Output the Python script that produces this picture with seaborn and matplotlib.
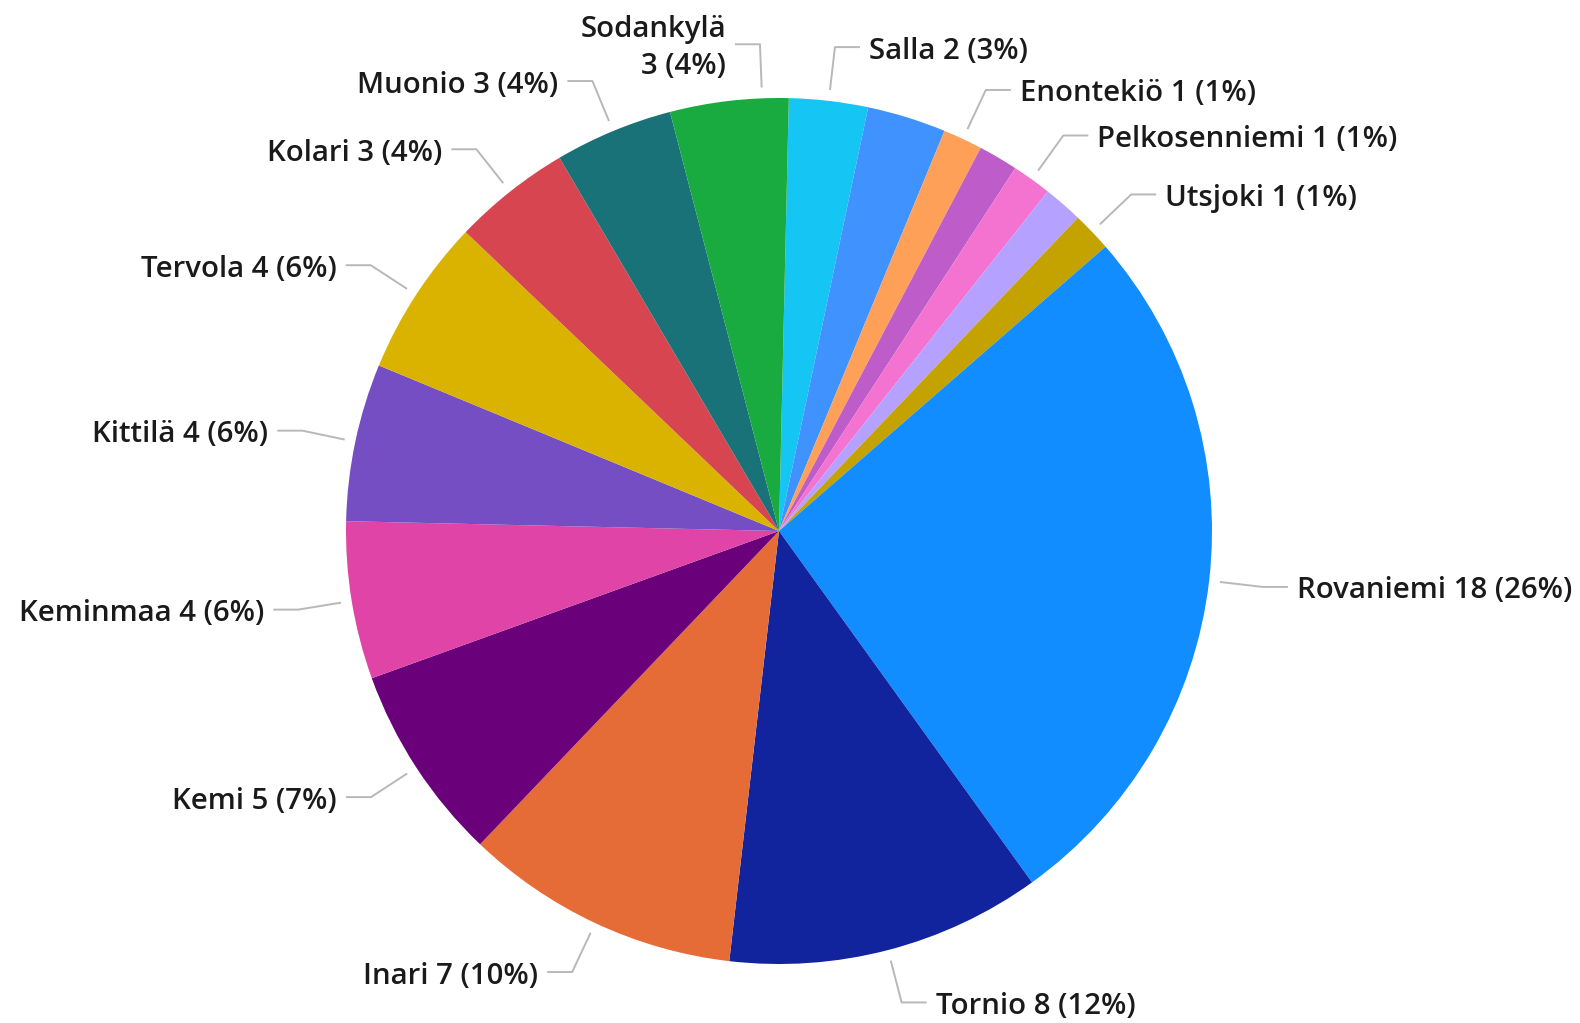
import numpy as np
import matplotlib
matplotlib.use("Agg")
import matplotlib.pyplot as plt
import seaborn as sns

# slices, clockwise from 12 o'clock
names = ["Salla", "", "Enontekiö", "", "Pelkosenniemi", "", "Utsjoki",
         "Rovaniemi", "Tornio", "Inari", "Kemi", "Keminmaa", "Kittilä",
         "Tervola", "Kolari", "Muonio", "Sodankylä"]
values = [2, 2, 1, 1, 1, 1, 1, 18, 8, 7, 5, 4, 4, 4, 3, 3, 3]
colors = ["#15C6F4", "#4092FF", "#FFA058", "#BE5DC9", "#F472D0", "#B5A1FF",
          "#C4A200", "#118DFF", "#12239E", "#E66C37", "#6B007B", "#E044A7",
          "#744EC2", "#D9B300", "#D64550", "#197278", "#1AAB40"]

sns.set_theme(style="white")
plt.rcParams['font.family'] = ['Open Sans', 'DejaVu Sans']

W, H = 1580, 1023
cx, cy, R = 779, 531, 433  # pie centre / radius in pixels

fig = plt.figure(figsize=(W / 100, H / 100), dpi=100)
ax = fig.add_axes([0, 0, 1, 1])

wedges, _ = ax.pie(values, colors=sns.color_palette(colors), startangle=88.7,
                   counterclock=False, radius=1, center=(0, 0),
                   wedgeprops=dict(linewidth=0))

ax.set_xlim(-cx / R, (W - cx) / R)
ax.set_ylim(-(H - cy) / R, cy / R)
ax.set_aspect('auto')
ax.axis('off')

total = sum(values)
shift = {"Sodankylä": -4.4}  # label nudged away from Salla
seg = 25 / R
gap = 9 / R
drop = 4 / R
for w, name, v in zip(wedges, names, values):
    if not name:
        continue
    ang = np.deg2rad((w.theta1 + w.theta2) / 2 + shift.get(name, 0))
    x0, y0 = 1.025 * np.cos(ang), 1.025 * np.sin(ang)
    x1, y1 = 1.125 * np.cos(ang), 1.125 * np.sin(ang)
    side = 1 if x1 >= 0 else -1
    x2 = x1 + side * seg
    ax.plot([x0, x1, x2], [y0, y1, y1], color="#b8b8b8", lw=1.4,
            solid_capstyle='butt', zorder=1)
    pct = round(100 * v / total)
    if name == "Sodankylä":
        txt = f"{name}\n{v} ({pct}%)"
    else:
        txt = f"{name} {v} ({pct}%)"
    ax.text(x2 + side * gap, y1 - drop, txt, ha='left' if side > 0 else 'right',
            va='center', multialignment='right', fontsize=21.2,
            fontweight='semibold', color='#1a1a1a', linespacing=1.38)

fig.savefig("out.png", dpi=100, facecolor='white')
